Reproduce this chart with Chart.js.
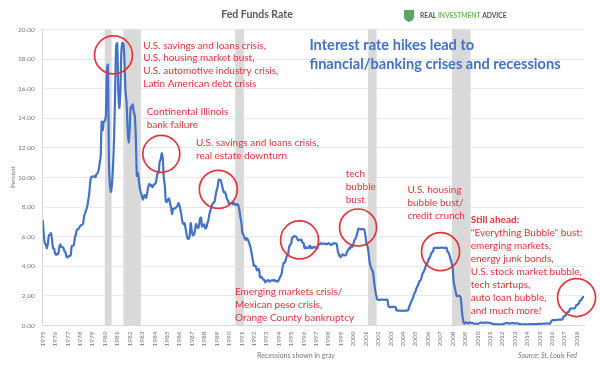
<!DOCTYPE html>
<html>
<head>
<meta charset="utf-8">
<script src="https://cdn.jsdelivr.net/npm/chart.js@4.4.1/dist/chart.umd.min.js"></script>
<style>
  html,body{margin:0;padding:0;background:#fff}
  #wrap{width:600px;height:377px;position:relative}
</style>
</head>
<body>
<div id="wrap"><canvas id="fed-chart" width="600" height="377"></canvas></div>
<script>
/* Fed Funds Rate, monthly, Jan 1975 .. Aug 2018 */
const startYear = 1975;
const rates1975_79 = [
  7.13,6.24,5.54,5.49,5.22,5.55,6.10,6.14,6.24,5.82,5.22,5.20,
  4.87,4.77,4.84,4.82,5.29,5.48,5.31,5.29,5.25,5.02,4.95,4.65,
  4.61,4.68,4.69,4.73,5.35,5.39,5.42,5.90,6.14,6.47,6.51,6.56,
  6.70,6.78,6.79,6.89,7.36,7.60,7.81,8.04,8.45,8.96,9.76,10.03,
  10.07,10.06,10.09,10.01,10.24,10.29,10.47,10.94,11.43,13.77,13.18,13.78
];
const rates1980_89 = [
  13.82,14.13,17.19,17.61,10.98,9.47,9.03,9.61,10.87,12.81,15.85,18.90,
  19.08,15.93,14.70,15.72,18.52,19.10,19.04,17.82,15.87,15.08,13.31,12.37,
  13.22,14.78,14.68,14.94,14.45,14.15,12.59,10.12,10.31,9.71,9.20,8.95,
  8.68,8.51,8.77,8.80,8.63,8.98,9.37,9.56,9.45,9.48,9.34,9.47,
  9.56,9.59,9.91,10.29,10.32,11.06,11.23,11.64,11.30,9.99,9.43,8.38,
  8.35,8.50,8.58,8.27,7.97,7.53,7.88,7.90,7.92,7.99,8.05,8.27,
  8.14,7.86,7.48,6.99,6.85,6.92,6.56,6.17,5.89,5.85,6.04,6.91,
  6.43,6.10,6.13,6.37,6.85,6.73,6.58,6.73,7.22,7.29,6.69,6.77,
  6.83,6.58,6.58,6.87,7.09,7.51,7.75,8.01,8.19,8.30,8.35,8.76,
  9.12,9.36,9.85,9.84,9.81,9.53,9.24,8.99,9.02,8.84,8.55,8.45
];
const rates1990_99 = [
  8.23,8.24,8.28,8.26,8.18,8.29,8.15,8.13,8.20,8.11,7.81,7.31,
  6.91,6.25,6.12,5.91,5.78,5.90,5.82,5.66,5.45,5.21,4.81,4.43,
  4.03,4.06,3.98,3.73,3.82,3.76,3.25,3.30,3.22,3.10,3.09,2.92,
  3.02,3.03,3.07,2.96,3.00,3.04,3.06,3.03,3.09,2.99,3.02,2.96,
  3.05,3.25,3.34,3.56,4.01,4.25,4.26,4.47,4.73,4.76,5.29,5.45,
  5.53,5.92,5.98,6.05,6.01,6.00,5.85,5.74,5.80,5.76,5.80,5.60,
  5.56,5.22,5.31,5.22,5.24,5.27,5.40,5.22,5.30,5.24,5.31,5.29,
  5.25,5.19,5.39,5.51,5.50,5.56,5.52,5.54,5.54,5.50,5.52,5.50,
  5.56,5.51,5.49,5.45,5.49,5.56,5.54,5.55,5.51,5.07,4.83,4.68,
  4.63,4.76,4.81,4.74,4.74,4.76,4.99,5.07,5.22,5.20,5.42,5.30
];
const rates2000_09 = [
  5.45,5.73,5.85,6.02,6.27,6.53,6.54,6.50,6.52,6.51,6.51,6.40,
  5.98,5.49,5.31,4.80,4.21,3.97,3.77,3.65,3.07,2.49,2.09,1.82,
  1.73,1.74,1.73,1.75,1.75,1.75,1.73,1.74,1.75,1.75,1.34,1.24,
  1.24,1.26,1.25,1.26,1.26,1.22,1.01,1.03,1.01,1.01,1.00,0.98,
  1.00,1.01,1.00,1.00,1.00,1.03,1.26,1.43,1.61,1.76,1.93,2.16,
  2.28,2.50,2.63,2.79,3.00,3.04,3.26,3.50,3.62,3.78,4.00,4.16,
  4.29,4.49,4.59,4.79,4.94,4.99,5.24,5.25,5.25,5.25,5.25,5.24,
  5.25,5.26,5.26,5.25,5.25,5.25,5.26,5.02,4.94,4.76,4.49,4.24,
  3.94,2.98,2.61,2.28,1.98,2.00,2.01,2.00,1.81,0.97,0.39,0.16,
  0.15,0.22,0.18,0.15,0.18,0.21,0.16,0.16,0.15,0.12,0.12,0.12
];
const rates2010_18 = [
  0.11,0.13,0.16,0.20,0.20,0.18,0.18,0.19,0.19,0.19,0.19,0.18,
  0.17,0.16,0.14,0.10,0.09,0.09,0.07,0.10,0.08,0.07,0.08,0.07,
  0.08,0.10,0.13,0.14,0.16,0.16,0.16,0.13,0.14,0.16,0.16,0.16,
  0.14,0.15,0.14,0.15,0.11,0.09,0.09,0.08,0.08,0.09,0.08,0.09,
  0.07,0.07,0.08,0.09,0.09,0.10,0.09,0.09,0.09,0.09,0.09,0.12,
  0.11,0.11,0.11,0.12,0.12,0.13,0.13,0.14,0.14,0.12,0.12,0.24,
  0.34,0.38,0.36,0.37,0.37,0.38,0.39,0.40,0.40,0.40,0.41,0.54,
  0.65,0.66,0.79,0.90,0.91,1.04,1.15,1.16,1.15,1.15,1.16,1.30,
  1.41,1.42,1.51,1.69,1.70,1.82,1.91,1.91
];

// recession periods (start, end) in decimal years
const recessions = [[1980.0,1980.55],[1981.5,1982.9],[1990.5,1991.2],[2001.2,2001.88],[2007.95,2009.45]];
const yearTicks = Array.from({length: 44}, (_, i) => 1975 + i);
const yTicks = [0,2,4,6,8,10,12,14,16,18,20];

// red circles around the peaks: [year, rate, radius px]
const circles = [
  [1980.70,18.28,19],[1984.55,11.60,18.5],[1989.14,9.20,19],[1995.68,5.78,19],
  [2000.39,6.62,18.5],[2007.03,4.99,19],[2017.98,1.89,19]
];

const RED = '#e3343c', BLUE = '#4472c4';
const notes = [
  { x:1983.10, y:18.92, lh:12.7, lines:['U.S. savings and loans crisis,','U.S. housing market bust,','U.S. automotive industry crisis,','Latin American debt crisis'] },
  { x:1983.37, y:14.42, lh:12.6, lines:['Continental Illinois','bank failure'] },
  { x:1987.34, y:12.33, lh:13,   lines:['U.S. savings and loans crisis,','real estate downturn'] },
  { x:1999.40, y:10.22, lh:13,   lines:['tech','bubble','bust'] },
  { x:2004.36, y:9.19,  lh:12.9, lines:['U.S. housing','bubble bust/','credit crunch'] },
  { x:2009.46, y:7.12,  lh:12.9, bold:1, lines:['Still ahead:','"Everything Bubble" bust:','emerging markets,','energy junk bonds,','U.S. stock market bubble,','tech startups,','auto loan bubble,','and much more!'] },
  { x:1990.48, y:2.28,  lh:13,   lines:['Emerging markets crisis/','Mexican peso crisis,','Orange County bankruptcy'] },
  { x:1996.47, y:18.92, lh:18.3, blue:true, lines:['Interest rate hikes lead to','financial/banking crises and recessions'] }
];

const allRates = rates1975_79.concat(rates1980_89, rates1990_99, rates2000_09, rates2010_18);
const points = allRates.map((v, i) => ({ x: startYear + i / 12, y: v }));

const bandsPlugin = {
  id: 'bands',
  beforeDatasetsDraw(chart) {
    const { ctx, chartArea: a, scales: { x } } = chart;
    ctx.save();
    ctx.fillStyle = '#d9d9d9';
    recessions.forEach(([s, e]) => {
      const x0 = x.getPixelForValue(s), x1 = x.getPixelForValue(e);
      ctx.fillRect(x0, a.top, x1 - x0, a.bottom - a.top);
    });
    ctx.restore();
  }
};

const notesPlugin = {
  id: 'notes',
  afterDraw(chart) {
    const { ctx, scales: { x, y } } = chart;
    ctx.save();
    // circles
    ctx.strokeStyle = RED; ctx.lineWidth = 1.7;
    circles.forEach(([cx, cy, r]) => {
      ctx.beginPath();
      ctx.arc(x.getPixelForValue(cx), y.getPixelForValue(cy), r, 0, Math.PI * 2);
      ctx.stroke();
    });
    // texts
    ctx.textAlign = 'left'; ctx.textBaseline = 'middle';
    notes.forEach(n => {
      const px = x.getPixelForValue(n.x), py = y.getPixelForValue(n.y);
      n.lines.forEach((t, i) => {
        ctx.fillStyle = n.blue ? BLUE : RED;
        ctx.font = n.blue ? 'bold 14.6px Lato' : ((n.bold && i === 0) ? 'bold 10px Lato' : '10px Lato');
        ctx.fillText(t, px, py + i * n.lh);
      });
    });

    // title
    ctx.fillStyle = '#595959';
    ctx.textAlign = 'center';
    ctx.font = 'bold 10.5px Lato';
    ctx.fillText('Fed Funds Rate', 257, 15);

    // logo
    ctx.fillStyle = '#5aa469';
    ctx.beginPath();
    ctx.moveTo(404, 10); ctx.lineTo(414, 10); ctx.lineTo(414, 17);
    ctx.quadraticCurveTo(414, 20, 409, 22); ctx.quadraticCurveTo(404, 20, 404, 17);
    ctx.closePath(); ctx.fill();
    ctx.textAlign = 'left';
    ctx.font = 'bold 6.7px Lato';
    let lx = 420;
    [['REAL ', '#555'], ['INVESTMENT ', '#6dbb5a'], ['ADVICE', '#555']].forEach(([t, c]) => {
      ctx.fillStyle = c; ctx.fillText(t, lx, 15.5); lx += ctx.measureText(t).width;
    });

    // axis title + footers
    ctx.fillStyle = '#777';
    ctx.font = '6.5px Lato';
    ctx.save(); ctx.translate(12.5, 177); ctx.rotate(-Math.PI / 2);
    ctx.textAlign = 'center'; ctx.fillText('Percent', 0, 0); ctx.restore();
    ctx.textAlign = 'center';
    ctx.font = '7px Lato';
    ctx.fillText('Recessions shown in gray', 296, 356);
    ctx.textAlign = 'right';
    ctx.font = 'italic 7px Lato';
    ctx.fillText('Source: St. Louis Fed', 577, 356);
    ctx.restore();
  }
};

new Chart(document.getElementById('fed-chart'), {
  type: 'line',
  data: {
    datasets: [{
      data: points, borderColor: BLUE, borderWidth: 2.2,
      pointRadius: 0, tension: 0.3, fill: false
    }]
  },
  options: {
    responsive: false, animation: false,
    layout: { padding: { top: 29.5, right: 16, left: 0, bottom: 0 } },
    plugins: { legend: { display: false }, tooltip: { enabled: false } },
    scales: {
      x: {
        type: 'linear', min: 1975, max: 2018.58,
        afterFit: s => { s.height = 51.5; },
        afterBuildTicks: s => { s.ticks = yearTicks.map(v => ({ value: v })); },
        grid: { display: false, drawTicks: false },
        border: { color: '#d9d9d9' },
        ticks: {
          autoSkip: false, minRotation: 90, maxRotation: 90, padding: 6,
          font: { family: 'Lato', size: 6.5 }, color: '#777',
          callback: v => String(v)
        }
      },
      y: {
        min: 0, max: 20,
        afterFit: s => { s.width = 42.7; },
        afterBuildTicks: s => { s.ticks = yTicks.map(v => ({ value: v })); },
        grid: { color: '#e8e8e8', drawTicks: false },
        border: { color: '#d9d9d9' },
        ticks: {
          padding: 8, font: { family: 'Lato', size: 6.5 }, color: '#777',
          callback: v => v.toFixed(2)
        }
      }
    }
  },
  plugins: [bandsPlugin, notesPlugin]
});
</script>
</body>
</html>
